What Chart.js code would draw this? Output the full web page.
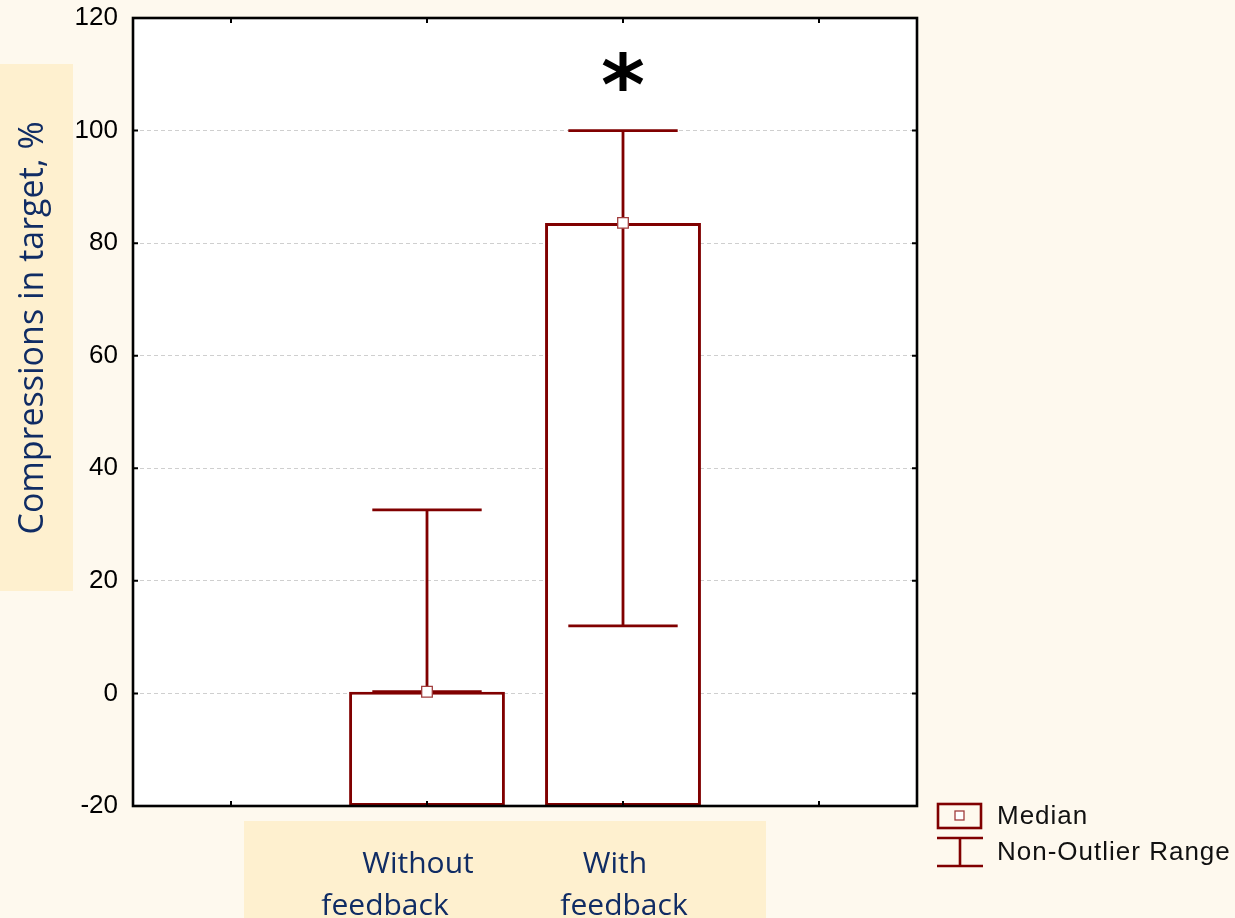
<!DOCTYPE html>
<html>
<head>
<meta charset="utf-8">
<script src="https://cdn.jsdelivr.net/npm/chart.js@4/dist/chart.umd.min.js"></script>
<style>
  html, body { margin: 0; padding: 0; background: #FEF9EE; }
  #wrap { width: 1235px; height: 918px; position: relative; }
</style>
</head>
<body>
<div id="wrap"><canvas id="c" width="1235" height="918"></canvas></div>
<script>
// ---- data ----
const categories = ["", "Without feedback", "With feedback", ""];
const xLabelLines = [[], ["Without", "feedback"], ["With", "feedback"], []];
const medians = [null, 0.3, 83.6, null];
const rangeLow = [null, 0.3, 12, null];
const rangeHigh = [null, 32.6, 100, null];
const barBase = -20;
const significance = ["", "", "*", ""];
const yTicks = [-20, 0, 20, 40, 60, 80, 100, 120];
const yTitle = "Compressions in target, %";
const legendLabels = ["Median", "Non-Outlier Range"];

const RED = "#800000";
const barData = medians.map(m => (m === null ? null : [barBase, m]));

const bgPlugin = {
  id: "bg",
  beforeDraw(chart) {
    const ctx = chart.ctx, a = chart.chartArea;
    ctx.save();
    ctx.fillStyle = "#FEF9EE";
    ctx.fillRect(0, 0, chart.width, chart.height);
    ctx.fillStyle = "#FEF0CF";
    ctx.fillRect(0, 64, 73, 527);
    ctx.fillRect(244, 821, 522, 97);
    ctx.fillStyle = "#ffffff";
    ctx.fillRect(a.left, a.top, a.right - a.left, a.bottom - a.top);
    ctx.restore();
  },
  afterDatasetDraw(chart, args) {
    if (args.index !== 0) return;
    const ctx = chart.ctx, xs = chart.scales.x, ys = chart.scales.y;
    const slot = xs.getPixelForValue(1) - xs.getPixelForValue(0);
    ctx.save();
    ctx.strokeStyle = RED;
    ctx.lineWidth = 2.8;
    rangeHigh.forEach((hi, i) => {
      if (hi === null) return;
      const x = xs.getPixelForValue(i);
      const yh = ys.getPixelForValue(hi), yl = ys.getPixelForValue(rangeLow[i]);
      const half = slot * 0.279;
      ctx.beginPath();
      ctx.moveTo(x, yl); ctx.lineTo(x, yh);
      ctx.moveTo(x - half, yh); ctx.lineTo(x + half, yh);
      ctx.moveTo(x - half, yl); ctx.lineTo(x + half, yl);
      ctx.stroke();
    });
    ctx.restore();
  },
  afterDraw(chart) {
    const ctx = chart.ctx, a = chart.chartArea, xs = chart.scales.x, ys = chart.scales.y;
    ctx.save();
    ctx.strokeStyle = "#000";
    ctx.lineWidth = 2.6;
    ctx.strokeRect(a.left, a.top, a.right - a.left, a.bottom - a.top);
    ctx.lineWidth = 2;
    ctx.beginPath();
    yTicks.forEach(v => {
      const y = ys.getPixelForValue(v);
      ctx.moveTo(a.left, y); ctx.lineTo(a.left + 5, y);
      ctx.moveTo(a.right, y); ctx.lineTo(a.right - 5, y);
    });
    categories.forEach((c, i) => {
      const x = xs.getPixelForValue(i);
      ctx.moveTo(x, a.bottom); ctx.lineTo(x, a.bottom - 5);
      ctx.moveTo(x, a.top); ctx.lineTo(x, a.top + 5);
    });
    ctx.stroke();
    // significance marks
    ctx.fillStyle = "#000";
    ctx.font = "bold 84px 'DejaVu Sans'";
    ctx.textAlign = "center";
    ctx.textBaseline = "middle";
    significance.forEach((s, i) => {
      if (!s) return;
      ctx.fillText(s, xs.getPixelForValue(i), ys.getPixelForValue(110) + 18);
    });
    // y title
    ctx.fillStyle = "#102C64";
    ctx.font = "34px 'Open Sans'";
    ctx.save();
    ctx.translate(43, 328);
    ctx.rotate(-Math.PI / 2);
    ctx.textAlign = "center";
    ctx.textBaseline = "alphabetic";
    ctx.fillText(yTitle, 0, 0);
    ctx.restore();
    // x labels
    ctx.font = "30px 'Open Sans'";
    ctx.textAlign = "center";
    ctx.textBaseline = "alphabetic";
    const offs = [[0, 0], [-9, -42], [-8, 1], [0, 0]];
    xLabelLines.forEach((lines, i) => {
      const x = xs.getPixelForValue(i);
      lines.forEach((t, k) => {
        ctx.fillText(t, x + offs[i][k], 873 + k * 42);
      });
    });
    // legend
    ctx.strokeStyle = RED;
    ctx.lineWidth = 2.6;
    ctx.strokeRect(938, 804, 43, 24);
    ctx.fillStyle = "#fff";
    ctx.fillRect(955, 811, 9, 9);
    ctx.strokeStyle = "#a03c3c";
    ctx.lineWidth = 1.3;
    ctx.strokeRect(955, 811, 9, 9);
    ctx.strokeStyle = RED;
    ctx.lineWidth = 2.6;
    ctx.beginPath();
    ctx.moveTo(937, 838); ctx.lineTo(983, 838);
    ctx.moveTo(937, 866); ctx.lineTo(983, 866);
    ctx.moveTo(960, 838); ctx.lineTo(960, 866);
    ctx.stroke();
    ctx.fillStyle = "#111";
    ctx.font = "26px 'Liberation Sans'";
    ctx.letterSpacing = "1px";
    ctx.textAlign = "left";
    ctx.textBaseline = "middle";
    ctx.fillText(legendLabels[0], 997, 817);
    ctx.fillText(legendLabels[1], 997, 853);
    ctx.restore();
  }
};

new Chart(document.getElementById("c"), {
  data: {
    labels: categories,
    datasets: [
      {
        type: "bar",
        data: barData,
        backgroundColor: "#ffffff",
        borderColor: RED,
        borderWidth: 3,
        borderSkipped: false,
        barPercentage: 0.795,
        categoryPercentage: 1,
        order: 2
      },
      {
        type: "line",
        data: medians,
        showLine: false,
        pointStyle: "rect",
        pointRadius: 7.5,
        pointBackgroundColor: "#ffffff",
        pointBorderColor: "#a03c3c",
        pointBorderWidth: 1.3,
        order: 1
      }
    ]
  },
  options: {
    responsive: false,
    animation: false,
    events: [],
    layout: { padding: { left: 0, top: 18, right: 318, bottom: 112 } },
    plugins: { legend: { display: false }, tooltip: { enabled: false } },
    scales: {
      x: {
        type: "category",
        offset: true,
        display: false,
        grid: { display: false }
      },
      y: {
        min: -20,
        max: 120,
        afterFit(s) { s.width = 133; s.paddingTop = 0; s.paddingBottom = 0; },
        afterBuildTicks(s) { s.ticks = yTicks.map(v => ({ value: v })); },
        border: { display: false, dash: [4, 3] },
        grid: {
          color: "#cfcfcf",
          lineWidth: 1,
          drawTicks: false
        },
        ticks: {
          padding: 15,
          color: "#000",
          font: { family: "'Liberation Sans'", size: 26 }
        }
      }
    }
  },
  plugins: [bgPlugin]
});
</script>
</body>
</html>
